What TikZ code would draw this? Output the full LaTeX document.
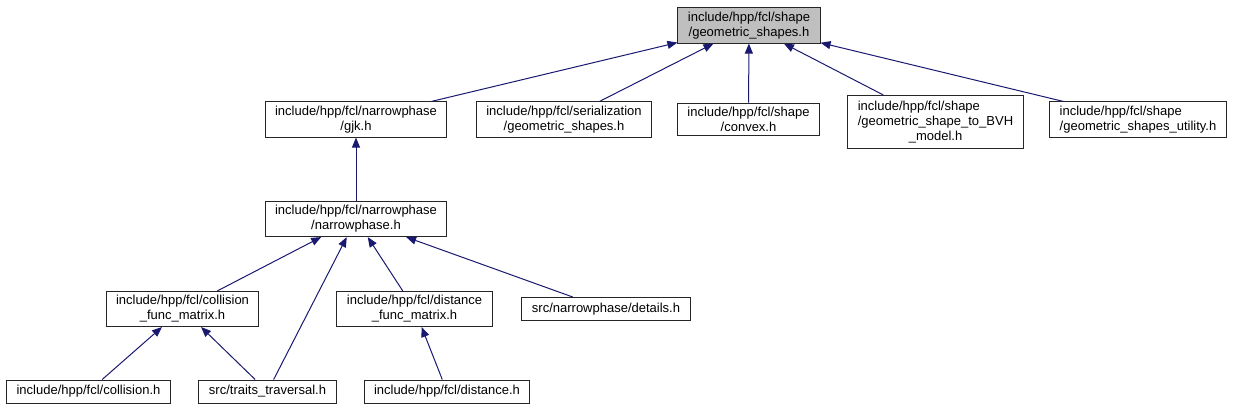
\documentclass[tikz,border=0pt]{standalone}
\usepackage{fontspec}
\setmainfont{Liberation Sans}
\usetikzlibrary{arrows.meta}
\definecolor{edgeblue}{RGB}{25,25,112}
\tikzset{hdr/.style={draw=black!85,line width=1pt,fill=white,align=center,
 font=\fontsize{13}{15}\selectfont,inner xsep=10pt,inner ysep=4pt,minimum height=23pt},
 cur/.style={hdr,fill=black!25},
 inc/.style={-{Triangle[length=10pt,width=8pt]},draw=edgeblue,line width=1pt}}

\begin{document}
\begin{tikzpicture}[x=1pt,y=-1pt]
\useasboundingbox (0,0) rectangle (1236,409);
\node[cur] (geo) at (749,25.5) {include/hpp/fcl/shape\\/geometric\_shapes.h};
\node[hdr] (gjk) at (356,119.5) {include/hpp/fcl/narrowphase\\/gjk.h};
\node[hdr] (ser) at (564,119.5) {include/hpp/fcl/serialization\\/geometric\_shapes.h};
\node[hdr] (cvx) at (748.5,119.5) {include/hpp/fcl/shape\\/convex.h};
\node[hdr] (bvh) at (935.5,122) {\begin{tabular}{@{}l@{}}include/hpp/fcl/shape\\
 /geometric\_shape\_to\_BVH\\\multicolumn{1}{@{}c@{}}{\_model.h}\end{tabular}};
\node[hdr,align=left] (utl) at (1138,119.5) {include/hpp/fcl/shape\\/geometric\_shapes\_utility.h};
\node[hdr] (nph) at (356,219) {include/hpp/fcl/narrowphase\\/narrowphase.h};
\node[hdr] (cfm) at (182.5,309) {include/hpp/fcl/collision\\\_func\_matrix.h};
\node[hdr] (dfm) at (414.5,309) {include/hpp/fcl/distance\\\_func\_matrix.h};
\node[hdr] (det) at (606,309) {src/narrowphase/details.h};
\node[hdr] (col) at (88.5,391.5) {include/hpp/fcl/collision.h};
\node[hdr] (trv) at (267.5,391.5) {src/traits\_traversal.h};
\node[hdr] (dst) at (447,391.5) {include/hpp/fcl/distance.h};
\draw[inc] (gjk)--(geo);
\draw[inc] (ser)--(geo);
\draw[inc] (cvx)--(geo);
\draw[inc] (bvh)--(geo);
\draw[inc] (utl)--(geo);
\draw[inc] (nph)--(gjk);
\draw[inc] (cfm)--(nph);
\draw[inc] (trv)--(nph);
\draw[inc] (dfm)--(nph);
\draw[inc] (det)--(nph);
\draw[inc] (col)--(cfm);
\draw[inc] (trv)--(cfm);
\draw[inc] (dst)--(dfm);
\end{tikzpicture}
\end{document}
